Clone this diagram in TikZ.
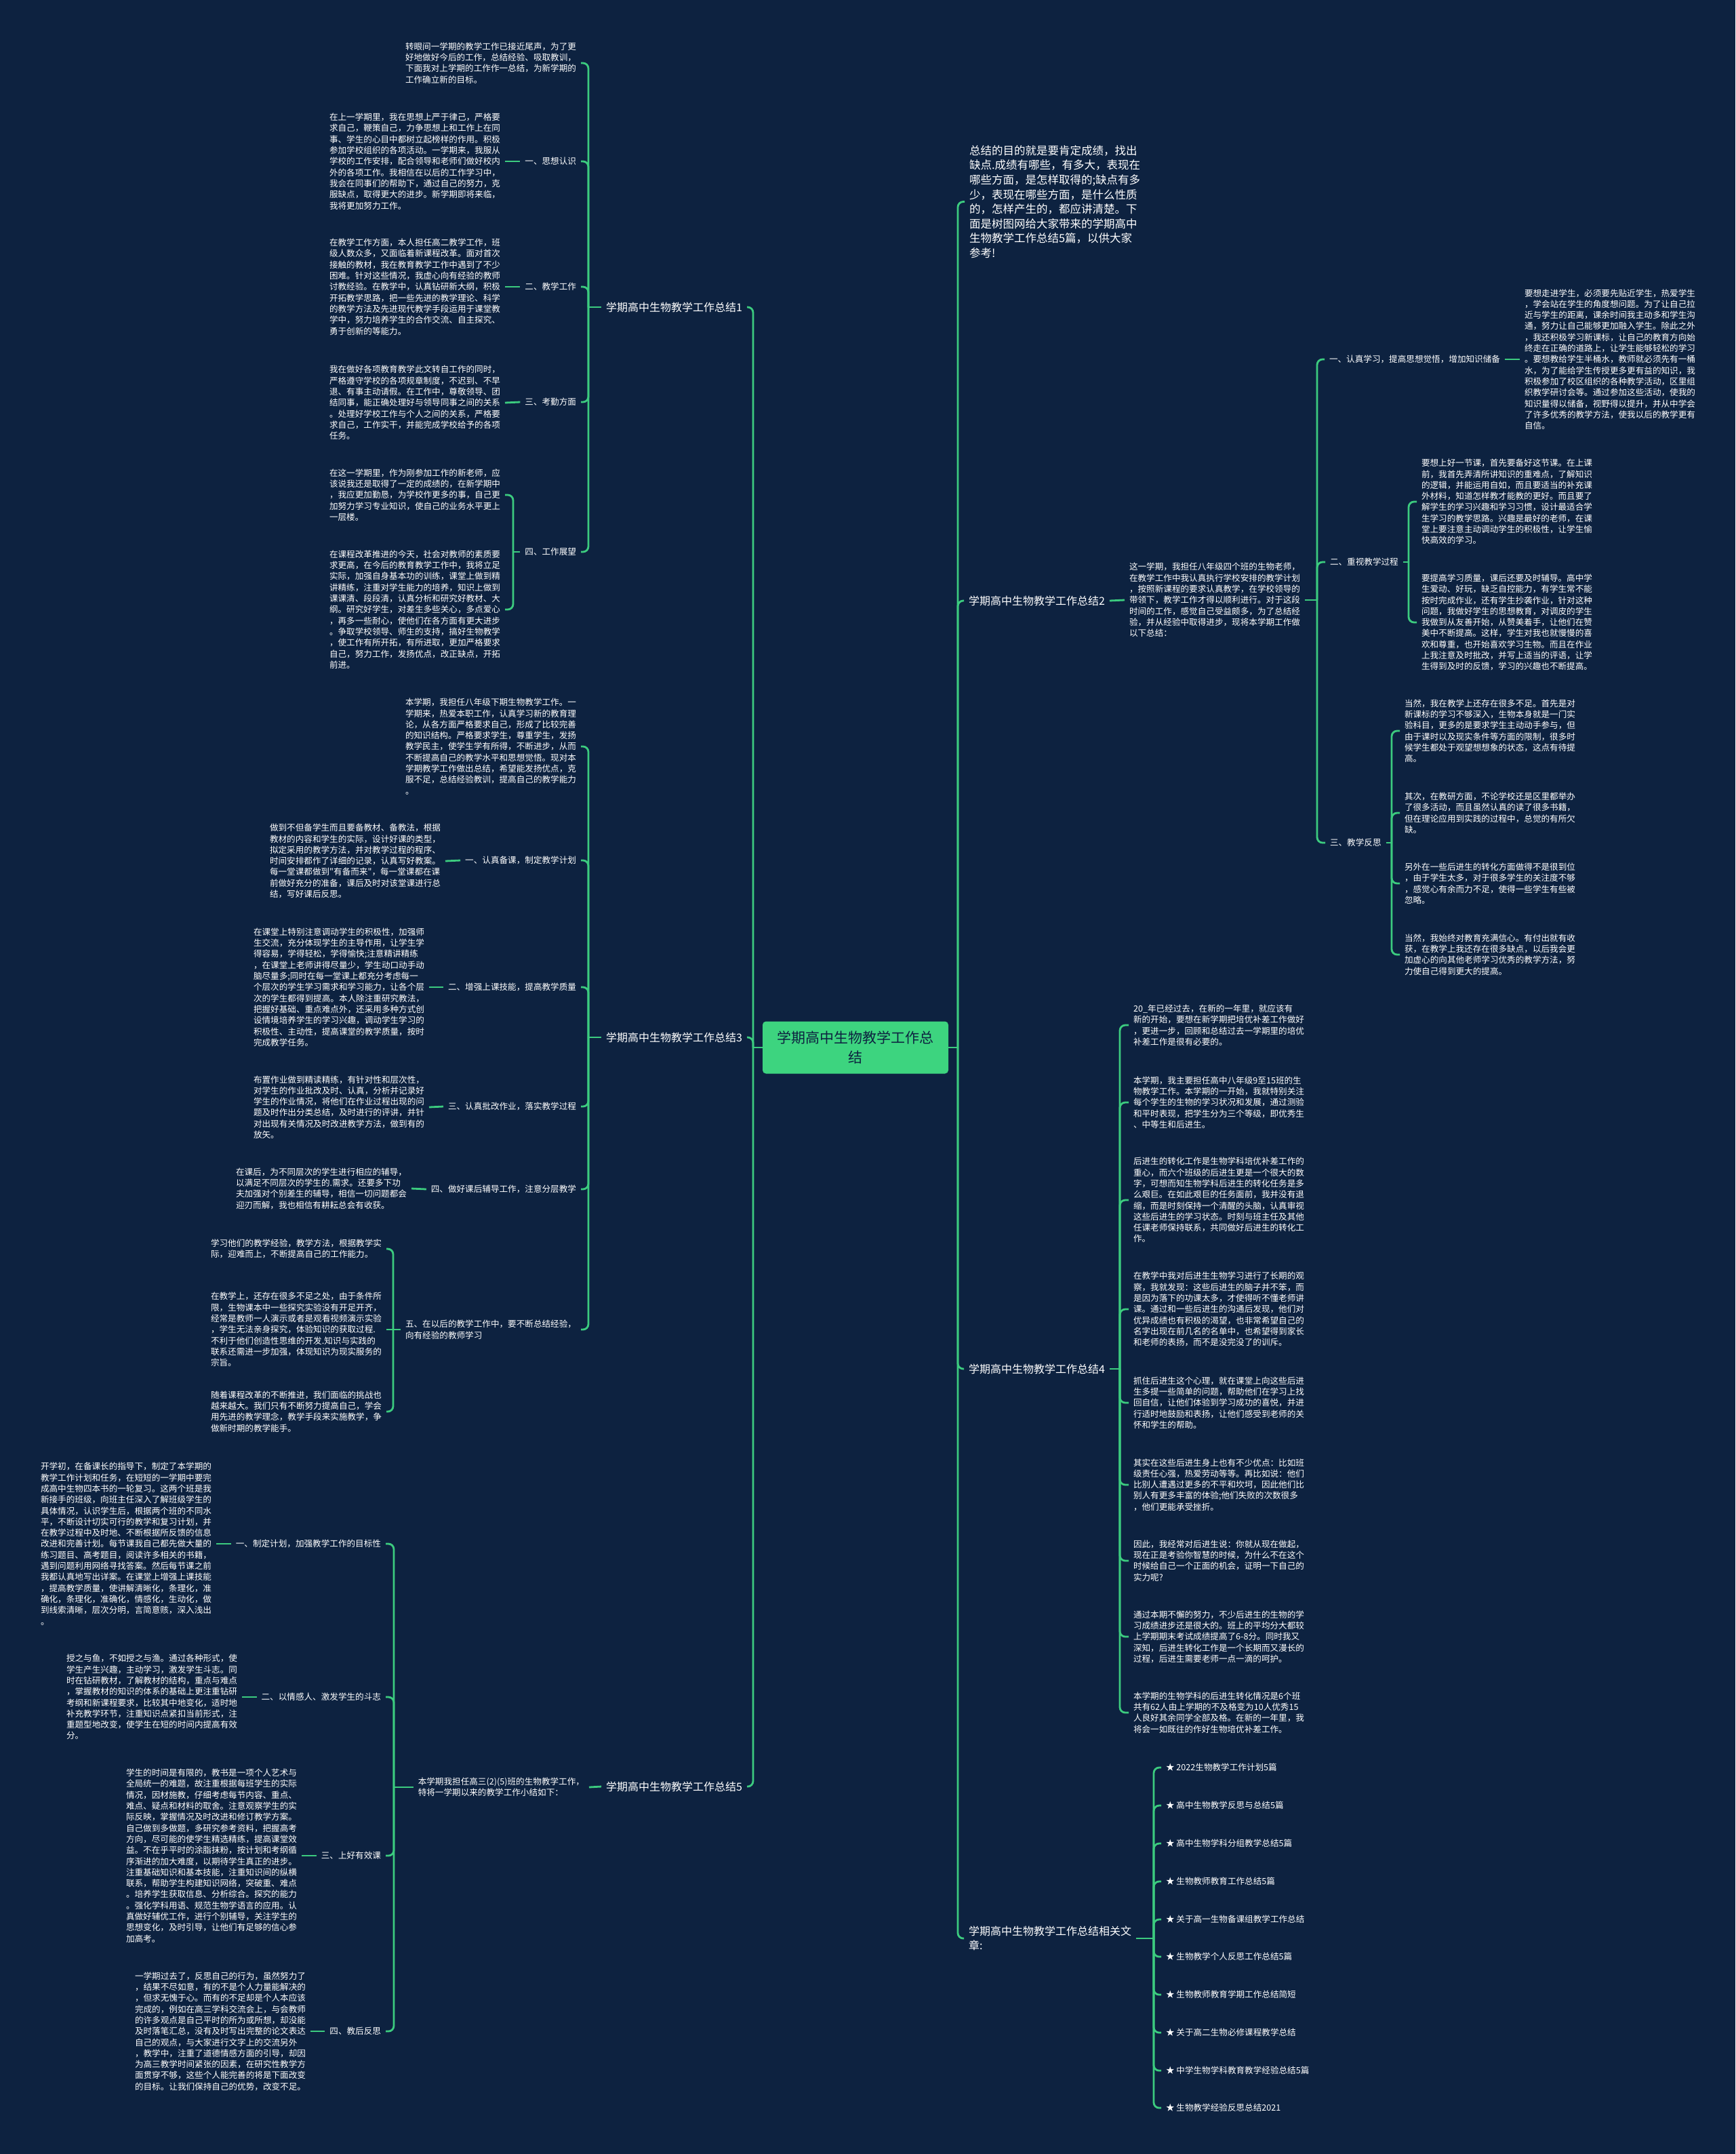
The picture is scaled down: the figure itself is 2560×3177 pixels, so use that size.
\documentclass[tikz,border=0pt]{standalone}
\usepackage{fontspec}
\newfontfamily\cjk{Noto Sans CJK SC}
\definecolor{bg}{HTML}{0D2240}
\definecolor{ln}{HTML}{3CCB7F}
\definecolor{ctr}{HTML}{3DD47F}
\begin{document}
\begin{tikzpicture}[x=1pt,y=-1pt,
  conn/.style={draw=ln, line width=2.8pt, rounded corners=8pt},
  txt/.style={text=white, font=\cjk\fontsize{12.6}{16.3}\selectfont, align=left, inner sep=0pt, outer xsep=7pt, outer ysep=0pt},
  lbl/.style={txt},
  big/.style={text=white, font=\cjk\fontsize{16}{21}\selectfont, align=left, inner sep=0pt, outer xsep=7pt, outer ysep=0pt},
  introbox/.style={text=white, font=\cjk\fontsize{16.5}{21.6}\selectfont, align=left, inner sep=0pt, outer xsep=7pt, outer ysep=0pt},
  ctrbox/.style={fill=ctr, text=bg, font=\cjk\fontsize{21}{29}\selectfont, rounded corners=5pt, minimum width=274pt, minimum height=77pt, align=center, inner sep=0pt}
]
\fill[bg] (0,0) rectangle (2560,3177);
\useasboundingbox (0,0) rectangle (2560,3177);

\node[ctrbox] (root) at (1262,1545) {学期高中生物教学工作总\\结};

% ---------- main branches ----------
\node[big, anchor=east] (s1) at (1102,453) {学期高中生物教学工作总结1};
\node[big, anchor=east] (s3) at (1102,1530) {学期高中生物教学工作总结3};
\node[big, anchor=east] (s5) at (1102,2635) {学期高中生物教学工作总结5};

\node[introbox, anchor=west] (ri) at (1423,297.5) {总结的目的就是要肯定成绩，找出\\缺点.成绩有哪些，有多大，表现在\\哪些方面，是怎样取得的;缺点有多\\少，表现在哪些方面，是什么性质\\的，怎样产生的，都应讲清楚。下\\面是树图网给大家带来的学期高中\\生物教学工作总结5篇，以供大家\\参考!};
\node[big, anchor=west] (s2) at (1422,886) {学期高中生物教学工作总结2};
\node[big, anchor=west] (s4) at (1422,2019) {学期高中生物教学工作总结4};
\node[big, anchor=west] (s6) at (1422,2859) {学期高中生物教学工作总结相关文\\章:};

\draw[conn] (root.west) -- (1111,1545);
\foreach \n in {s1,s3,s5} \draw[conn] (1111,1545) |- (\n.east);
\draw[conn] (root.east) -- (1413,1545);
\foreach \n in {ri,s2,s4,s6} \draw[conn] (1413,1545) |- (\n.west);

% ---------- summary 1 ----------
\node[txt, anchor=east] (a0) at (857,93) {转眼间一学期的教学工作已接近尾声，为了更\\好地做好今后的工作，总结经验、吸取教训，\\下面我对上学期的工作作一总结，为新学期的\\工作确立新的目标。};
\node[lbl, anchor=east] (a1) at (857,238) {一、思想认识};
\node[txt, anchor=east] (a1t) at (745,238) {在上一学期里，我在思想上严于律己，严格要\\求自己，鞭策自己，力争思想上和工作上在同\\事、学生的心目中都树立起榜样的作用。积极\\参加学校组织的各项活动。一学期来，我服从\\学校的工作安排，配合领导和老师们做好校内\\外的各项工作。我相信在以后的工作学习中，\\我会在同事们的帮助下，通过自己的努力，克\\服缺点，取得更大的进步。新学期即将来临，\\我将更加努力工作。};
\node[lbl, anchor=east] (a2) at (857,423) {二、教学工作};
\node[txt, anchor=east] (a2t) at (745,423) {在教学工作方面，本人担任高二教学工作，班\\级人数众多，又面临着新课程改革。面对首次\\接触的教材，我在教育教学工作中遇到了不少\\困难。针对这些情况，我虚心向有经验的教师\\讨教经验。在教学中，认真钻研新大纲，积极\\开拓教学思路，把一些先进的教学理论、科学\\的教学方法及先进现代教学手段运用于课堂教\\学中，努力培养学生的合作交流、自主探究、\\勇于创新的等能力。};
\node[lbl, anchor=east] (a3) at (857,593) {三、考勤方面};
\node[txt, anchor=east] (a3t) at (745,594) {我在做好各项教育教学此文转自工作的同时，\\严格遵守学校的各项规章制度，不迟到、不早\\退、有事主动请假。在工作中，尊敬领导、团\\结同事，能正确处理好与领导同事之间的关系\\。处理好学校工作与个人之间的关系，严格要\\求自己，工作实干，并能完成学校给予的各项\\任务。};
\node[lbl, anchor=east] (a4) at (857,814) {四、工作展望};
\node[txt, anchor=east] (a4a) at (745,730) {在这一学期里，作为刚参加工作的新老师，应\\该说我还是取得了一定的成绩的，在新学期中\\，我应更加勤恳，为学校作更多的事，自己更\\加努力学习专业知识，使自己的业务水平更上\\一层楼。};
\node[txt, anchor=east] (a4b) at (745,899) {在课程改革推进的今天，社会对教师的素质要\\求更高，在今后的教育教学工作中，我将立足\\实际，加强自身基本功的训练，课堂上做到精\\讲精练，注重对学生能力的培养，知识上做到\\课课清、段段清，认真分析和研究好教材、大\\纲。研究好学生，对差生多些关心，多点爱心\\，再多一些耐心，使他们在各方面有更大进步\\。争取学校领导、师生的支持，搞好生物教学\\，使工作有所开拓，有所进取，更加严格要求\\自己，努力工作，发扬优点，改正缺点，开拓\\前进。};

\draw[conn] (s1.west) -- (868,453);
\foreach \n in {a0,a1,a2,a3,a4} \draw[conn] (868,453) |- (\n.east);
\foreach \n in {a1,a2,a3} \draw[conn] (\n t.east) -- (\n.west);
\draw[conn] (a4.west) -- (757,814);
\foreach \n in {a4a,a4b} \draw[conn] (757,814) |- (\n.east);

% ---------- summary 3 ----------
\node[txt, anchor=east] (b0) at (857,1101) {本学期，我担任八年级下期生物教学工作。一\\学期来，热爱本职工作，认真学习新的教育理\\论，从各方面严格要求自己，形成了比较完善\\的知识结构。严格要求学生，尊重学生，发扬\\教学民主，使学生学有所得，不断进步，从而\\不断提高自己的教学水平和思想觉悟。现对本\\学期教学工作做出总结，希望能发扬优点，克\\服不足，总结经验教训，提高自己的教学能力\\。};
\node[lbl, anchor=east] (b1) at (857,1269) {一、认真备课，制定教学计划};
\node[txt, anchor=east] (b1t) at (657,1270) {做到不但备学生而且要备教材、备教法，根据\\教材的内容和学生的实际，设计好课的类型，\\拟定采用的教学方法，并对教学过程的程序、\\时间安排都作了详细的记录，认真写好教案。\\每一堂课都做到"有备而来"，每一堂课都在课\\前做好充分的准备，课后及时对该堂课进行总\\结，写好课后反思。};
\node[lbl, anchor=east] (b2) at (857,1456) {二、增强上课技能，提高教学质量};
\node[txt, anchor=east] (b2t) at (633,1456) {在课堂上特别注意调动学生的积极性，加强师\\生交流，充分体现学生的主导作用，让学生学\\得容易，学得轻松，学得愉快;注意精讲精练\\，在课堂上老师讲得尽量少，学生动口动手动\\脑尽量多;同时在每一堂课上都充分考虑每一\\个层次的学生学习需求和学习能力，让各个层\\次的学生都得到提高。本人除注重研究教法，\\把握好基础、重点难点外，还采用多种方式创\\设情境培养学生的学习兴趣，调动学生学习的\\积极性、主动性，提高课堂的教学质量，按时\\完成教学任务。};
\node[lbl, anchor=east] (b3) at (857,1632) {三、认真批改作业，落实教学过程};
\node[txt, anchor=east] (b3t) at (633,1633) {布置作业做到精读精练，有针对性和层次性，\\对学生的作业批改及时、认真，分析并记录好\\学生的作业情况，将他们在作业过程出现的问\\题及时作出分类总结，及时进行的评讲，并针\\对出现有关情况及时改进教学方法，做到有的\\放矢。};
\node[lbl, anchor=east] (b4) at (857,1754) {四、做好课后辅导工作，注意分层教学};
\node[txt, anchor=east] (b4t) at (607,1753) {在课后，为不同层次的学生进行相应的辅导，\\以满足不同层次的学生的.需求。还要多下功\\夫加强对个别差生的辅导，相信一切问题都会\\迎刃而解，我也相信有耕耘总会有收获。};
\node[lbl, anchor=east] (b5) at (857,1961) {五、在以后的教学工作中，要不断总结经验，\\向有经验的教师学习};
\node[txt, anchor=east] (b5a) at (570,1842) {学习他们的教学经验，教学方法，根据教学实\\际，迎难而上，不断提高自己的工作能力。};
\node[txt, anchor=east] (b5b) at (570,1961) {在教学上，还存在很多不足之处，由于条件所\\限，生物课本中一些探究实验没有开足开齐，\\经常是教师一人演示或者是观看视频演示实验\\，学生无法亲身探究，体验知识的获取过程.\\不利于他们创造性思维的开发.知识与实践的\\联系还需进一步加强，体现知识为现实服务的\\宗旨。};
\node[txt, anchor=east] (b5c) at (570,2082) {随着课程改革的不断推进，我们面临的挑战也\\越来越大。我们只有不断努力提高自己，学会\\用先进的教学理念，教学手段来实施教学，争\\做新时期的教学能手。};

\draw[conn] (s3.west) -- (868,1530);
\foreach \n in {b0,b1,b2,b3,b4,b5} \draw[conn] (868,1530) |- (\n.east);
\foreach \n in {b1,b2,b3,b4} \draw[conn] (\n t.east) -- (\n.west);
\draw[conn] (b5.west) -- (580,1961);
\foreach \n in {b5a,b5c} \draw[conn] (580,1961) |- (\n.east);
\draw[conn] (580,1961) -- (b5b.east);

% ---------- summary 5 ----------
\node[txt, anchor=east] (c0) at (869,2636) {本学期我担任高三(2)(5)班的生物教学工作，\\特将一学期以来的教学工作小结如下：};
\node[lbl, anchor=east] (c1) at (569,2277) {一、制定计划，加强教学工作的目标性};
\node[txt, anchor=east] (c1t) at (319,2277) {开学初，在备课长的指导下，制定了本学期的\\教学工作计划和任务，在短短的一学期中要完\\成高中生物四本书的一轮复习。这两个班是我\\新接手的班级，向班主任深入了解班级学生的\\具体情况，认识学生后，根据两个班的不同水\\平，不断设计切实可行的教学和复习计划，并\\在教学过程中及时地、不断根据所反馈的信息\\改进和完善计划。每节课我自己都先做大量的\\练习题目、高考题目，阅读许多相关的书籍，\\遇到问题利用网络寻找答案。然后每节课之前\\我都认真地写出详案。在课堂上增强上课技能\\，提高教学质量，使讲解清晰化，条理化，准\\确化，条理化，准确化，情感化，生动化，做\\到线索清晰，层次分明，言简意赅，深入浅出\\。};
\node[lbl, anchor=east] (c2) at (569,2503) {二、以情感人、激发学生的斗志};
\node[txt, anchor=east] (c2t) at (357,2503) {授之与鱼，不如授之与渔。通过各种形式，使\\学生产生兴趣，主动学习，激发学生斗志。同\\时在钻研教材，了解教材的结构，重点与难点\\，掌握教材的知识的体系的基础上更注重钻研\\考纲和新课程要求，比较其中地变化，适时地\\补充教学环节，注重知识点紧扣当前形式，注\\重题型地改变，使学生在短的时间内提高有效\\分。};
\node[lbl, anchor=east] (c3) at (569,2737) {三、上好有效课};
\node[txt, anchor=east] (c3t) at (445,2737) {学生的时间是有限的，教书是一项个人艺术与\\全局统一的难题，故注重根据每班学生的实际\\情况，因材施教，仔细考虑每节内容、重点、\\难点、疑点和材料的取舍。注意观察学生的实\\际反映，掌握情况及时改进和修订教学方案。\\自己做到多做题，多研究参考资料，把握高考\\方向，尽可能的使学生精选精练，提高课堂效\\益。不在乎平时的涂脂抹粉，按计划和考纲循\\序渐进的加大难度，以期待学生真正的进步。\\注重基础知识和基本技能，注重知识间的纵横\\联系，帮助学生构建知识网络，突破重、难点\\。培养学生获取信息、分析综合。探究的能力\\。强化学科用语、规范生物学语言的应用。认\\真做好辅优工作，进行个别辅导，关注学生的\\思想变化，及时引导，让他们有足够的信心参\\加高考。};
\node[lbl, anchor=east] (c4) at (569,2996) {四、教后反思};
\node[txt, anchor=east] (c4t) at (458,2996) {一学期过去了，反思自己的行为，虽然努力了\\，结果不尽如意，有的不是个人力量能解决的\\，但求无愧于心。而有的不足却是个人本应该\\完成的，例如在高三学科交流会上，与会教师\\的许多观点是自己平时的所为或所想，却没能\\及时落笔汇总，没有及时写出完整的论文表达\\自己的观点，与大家进行文字上的交流另外\\，教学中，注重了道德情感方面的引导，却因\\为高三教学时间紧张的因素，在研究性教学方\\面贯穿不够，这些个人能完善的将是下面改变\\的目标。让我们保持自己的优势，改变不足。};

\draw[conn] (s5.west) -- (c0.east);
\draw[conn] (c0.west) -- (581,2636);
\foreach \n in {c1,c2,c3,c4} \draw[conn] (581,2636) |- (\n.east);
\foreach \n in {c1,c2,c3,c4} \draw[conn] (\n t.east) -- (\n.west);

% ---------- summary 2 ----------
\node[txt, anchor=west] (d0) at (1659,885) {这一学期，我担任八年级四个班的生物老师，\\在教学工作中我认真执行学校安排的教学计划\\，按照新课程的要求认真教学，在学校领导的\\带领下，教学工作才得以顺利进行。对于这段\\时间的工作，感觉自己受益颇多，为了总结经\\验，并从经验中取得进步，现将本学期工作做\\以下总结：};
\node[lbl, anchor=west] (d1) at (1954,530) {一、认真学习，提高思想觉悟，增加知识储备};
\node[txt, anchor=west] (d1t) at (2242,530) {要想走进学生，必须要先贴近学生，热爱学生\\，学会站在学生的角度想问题。为了让自己拉\\近与学生的距离，课余时间我主动多和学生沟\\通，努力让自己能够更加融入学生。除此之外\\，我还积极学习新课标，让自己的教育方向始\\终走在正确的道路上，让学生能够轻松的学习\\。要想教给学生半桶水，教师就必须先有一桶\\水，为了能给学生传授更多更有益的知识，我\\积极参加了校区组织的各种教学活动，区里组\\织教学研讨会等。通过参加这些活动，使我的\\知识量得以储备，视野得以提升，并从中学会\\了许多优秀的教学方法，使我以后的教学更有\\自信。};
\node[lbl, anchor=west] (d2) at (1955,829) {二、重视教学过程};
\node[txt, anchor=west] (d2a) at (2090,740) {要想上好一节课，首先要备好这节课。在上课\\前，我首先弄清所讲知识的重难点，了解知识\\的逻辑，并能运用自如，而且要适当的补充课\\外材料，知道怎样教才能教的更好。而且要了\\解学生的学习兴趣和学习习惯，设计最适合学\\生学习的教学思路。兴趣是最好的老师，在课\\堂上要注意主动调动学生的积极性，让学生愉\\快高效的学习。};
\node[txt, anchor=west] (d2b) at (2090,918) {要提高学习质量，课后还要及时辅导。高中学\\生爱动、好玩，缺乏自控能力，有学生常不能\\按时完成作业，还有学生抄袭作业，针对这种\\问题，我做好学生的思想教育，对调皮的学生\\我做到从友善开始，从赞美着手，让他们在赞\\美中不断提高。这样，学生对我也就慢慢的喜\\欢和尊重，也开始喜欢学习生物。而且在作业\\上我注意及时批改，并写上适当的评语，让学\\生得到及时的反馈，学习的兴趣也不断提高。};
\node[lbl, anchor=west] (d3) at (1955,1243) {三、教学反思};
\node[txt, anchor=west] (d3a) at (2065,1078) {当然，我在教学上还存在很多不足。首先是对\\新课标的学习不够深入，生物本身就是一门实\\验科目，更多的是要求学生主动动手参与，但\\由于课时以及现实条件等方面的限制，很多时\\候学生都处于观望想想象的状态，这点有待提\\高。};
\node[txt, anchor=west] (d3b) at (2065,1199) {其次，在教研方面，不论学校还是区里都举办\\了很多活动，而且虽然认真的读了很多书籍，\\但在理论应用到实践的过程中，总觉的有所欠\\缺。};
\node[txt, anchor=west] (d3c) at (2065,1303) {另外在一些后进生的转化方面做得不是很到位\\，由于学生太多，对于很多学生的关注度不够\\，感觉心有余而力不足，使得一些学生有些被\\忽略。};
\node[txt, anchor=west] (d3d) at (2065,1408) {当然，我始终对教育充满信心。有付出就有收\\获，在教学上我还存在很多缺点，以后我会更\\加虚心的向其他老师学习优秀的教学方法，努\\力使自己得到更大的提高。};

\draw[conn] (s2.east) -- (d0.west);
\draw[conn] (d0.east) -- (1943,885);
\foreach \n in {d1,d2,d3} \draw[conn] (1943,885) |- (\n.west);
\draw[conn] (d1.east) -- (d1t.west);
\draw[conn] (d2.east) -- (2078,829);
\foreach \n in {d2a,d2b} \draw[conn] (2078,829) |- (\n.west);
\draw[conn] (d3.east) -- (2053,1243);
\foreach \n in {d3a,d3b,d3c,d3d} \draw[conn] (2053,1243) |- (\n.west);

% ---------- summary 4 ----------
\node[txt, anchor=west] (e1) at (1665,1512) {20\_年已经过去，在新的一年里，就应该有\\新的开始，要想在新学期把培优补差工作做好\\，更进一步，回顾和总结过去一学期里的培优\\补差工作是很有必要的。};
\node[txt, anchor=west] (e2) at (1665,1626) {本学期，我主要担任高中八年级9至15班的生\\物教学工作。本学期的一开始，我就特别关注\\每个学生的生物的学习状况和发展，通过测验\\和平时表现，把学生分为三个等级，即优秀生\\、中等生和后进生。};
\node[txt, anchor=west] (e3) at (1665,1770) {后进生的转化工作是生物学科培优补差工作的\\重心，而六个班级的后进生更是一个很大的数\\字，可想而知生物学科后进生的转化任务是多\\么艰巨。在如此艰巨的任务面前，我并没有退\\缩，而是时刻保持一个清醒的头脑，认真审视\\这些后进生的学习状态。时刻与班主任及其他\\任课老师保持联系，共同做好后进生的转化工\\作。};
\node[txt, anchor=west] (e4) at (1665,1931) {在教学中我对后进生生物学习进行了长期的观\\察，我就发现：这些后进生的脑子并不笨，而\\是因为落下的功课太多，才使得听不懂老师讲\\课。通过和一些后进生的沟通后发现，他们对\\优异成绩也有积极的渴望，也非常希望自己的\\名字出现在前几名的名单中，也希望得到家长\\和老师的表扬，而不是没完没了的训斥。};
\node[txt, anchor=west] (e5) at (1665,2069) {抓住后进生这个心理，就在课堂上向这些后进\\生多提一些简单的问题，帮助他们在学习上找\\回自信，让他们体验到学习成功的喜悦，并进\\行适时地鼓励和表扬，让他们感受到老师的关\\怀和学生的帮助。};
\node[txt, anchor=west] (e6) at (1665,2190) {其实在这些后进生身上也有不少优点：比如班\\级责任心强，热爱劳动等等。再比如说：他们\\比别人遭遇过更多的不平和坎坷，因此他们比\\别人有更多丰富的体验;他们失败的次数很多\\，他们更能承受挫折。};
\node[txt, anchor=west] (e7) at (1665,2302) {因此，我经常对后进生说：你就从现在做起，\\现在正是考验你智慧的时候，为什么不在这个\\时候给自己一个正面的机会，证明一下自己的\\实力呢?};
\node[txt, anchor=west] (e8) at (1665,2414) {通过本期不懈的努力，不少后进生的生物的学\\习成绩进步还是很大的。班上的平均分大都较\\上学期期末考试成绩提高了6-8分。同时我又\\深知，后进生转化工作是一个长期而又漫长的\\过程，后进生需要老师一点一滴的呵护。};
\node[txt, anchor=west] (e9) at (1665,2526) {本学期的生物学科的后进生转化情况是6个班\\共有62人由上学期的不及格变为10人优秀15\\人良好其余同学全部及格。在新的一年里，我\\将会一如既往的作好生物培优补差工作。};

\draw[conn] (s4.east) -- (1652,2019);
\foreach \n in {e1,e2,e3,e4,e5,e6,e7,e8,e9} \draw[conn] (1652,2019) |- (\n.west);

% ---------- related ----------
\node[txt, anchor=west] (f1) at (1713,2607) {★ 2022生物教学工作计划5篇};
\node[txt, anchor=west] (f2) at (1713,2663) {★ 高中生物教学反思与总结5篇};
\node[txt, anchor=west] (f3) at (1713,2719) {★ 高中生物学科分组教学总结5篇};
\node[txt, anchor=west] (f4) at (1713,2775) {★ 生物教师教育工作总结5篇};
\node[txt, anchor=west] (f5) at (1713,2831) {★ 关于高一生物备课组教学工作总结};
\node[txt, anchor=west] (f6) at (1713,2886) {★ 生物教学个人反思工作总结5篇};
\node[txt, anchor=west] (f7) at (1713,2942) {★ 生物教师教育学期工作总结简短};
\node[txt, anchor=west] (f8) at (1713,2998) {★ 关于高二生物必修课程教学总结};
\node[txt, anchor=west] (f9) at (1713,3054) {★ 中学生物学科教育教学经验总结5篇};
\node[txt, anchor=west] (f10) at (1713,3109) {★ 生物教学经验反思总结2021};

\draw[conn] (s6.east) -- (1702,2859);
\foreach \n in {f1,f2,f3,f4,f5,f6,f7,f8,f9,f10} \draw[conn] (1702,2859) |- (\n.west);
\end{tikzpicture}
\end{document}
